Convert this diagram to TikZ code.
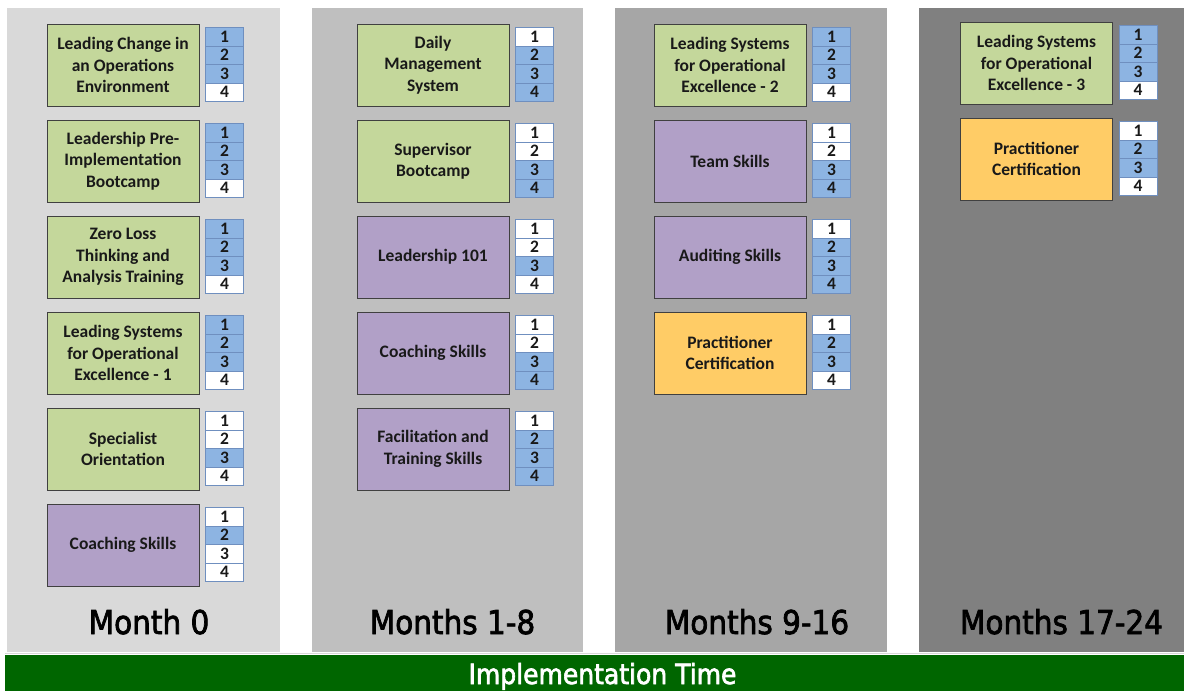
\documentclass[tikz,border=0pt]{standalone}
\usepackage{xcolor}
\usepackage{tikz}
\usepackage{fontspec}
\usetikzlibrary{positioning}
\setmainfont{Carlito}
\newfontfamily\tahoma[FakeStretch=0.9, FakeBold=2.2]{DejaVu Sans}
\definecolor{c1}{HTML}{D9D9D9}
\definecolor{c2}{HTML}{BFBFBF}
\definecolor{c3}{HTML}{A6A6A6}
\definecolor{c4}{HTML}{808080}
\definecolor{cg}{HTML}{C4D79B}
\definecolor{cp}{HTML}{B1A0C7}
\definecolor{co}{HTML}{FFCC66}
\definecolor{cb}{HTML}{8DB4E2}
\definecolor{cl}{HTML}{6F8FBF}
\definecolor{cbar}{HTML}{006600}

\tikzset{
  course/.style={draw=black!75, line width=1pt, minimum width=152pt, minimum height=82pt,
    inner sep=2pt, align=center, text=black!90, font=\bfseries\fontsize{17.5}{21.5}\selectfont},
  lvl/.style={draw=cl, line width=0.8pt, minimum width=38pt, minimum height=18.5pt,
    inner sep=0pt, outer sep=0pt, text=black!90, font=\bfseries\fontsize{17.5}{17.5}\selectfont},
  month/.style={anchor=base, font=\tahoma\fontsize{32.8}{34}\selectfont}
}

% four level cells to the right of a course box
\newcommand{\lvlstack}[5]{%
  \node[lvl, fill=#2, right=6pt of #1.north east, anchor=north west, yshift=-4pt] (#1-1) {1};
  \node[lvl, fill=#3, below=0pt of #1-1] (#1-2) {2};
  \node[lvl, fill=#4, below=0pt of #1-2] (#1-3) {3};
  \node[lvl, fill=#5, below=0pt of #1-3] (#1-4) {4};
}

\begin{document}
\begin{tikzpicture}[x=1pt, y=-1pt]
  \useasboundingbox (0,0) rectangle (1184,691);
  \fill[white] (0,0) rectangle (1184,691);

  % time panels
  \fill[c1] (7,8) rectangle (280,652);
  \fill[c2] (312,8) rectangle (583,652);
  \fill[c3] (615,8) rectangle (887,652);
  \fill[c4] (919,8) rectangle (1184,652);
  \draw[black!15, line width=0.8pt] (5,653.5) -- (1184,653.5);
  \fill[cbar] (5,655) rectangle (1184,691);

  % Month 0
  \node[course, fill=cg] (change) at (123,65) {Leading Change in\\an Operations\\Environment};
  \node[course, fill=cg, below=13pt of change] (preimp) {Leadership Pre-\\Implementation\\Bootcamp};
  \node[course, fill=cg, below=13pt of preimp] (zeroloss) {Zero Loss\\Thinking and\\Analysis Training};
  \node[course, fill=cg, below=13pt of zeroloss] (lsoe1) {Leading Systems\\for Operational\\Excellence - 1};
  \node[course, fill=cg, below=13pt of lsoe1] (special) {Specialist\\Orientation};
  \node[course, fill=cp, below=13pt of special] (coach1) {Coaching Skills};
  \lvlstack{change}{cb}{cb}{cb}{white}
  \lvlstack{preimp}{cb}{cb}{cb}{white}
  \lvlstack{zeroloss}{cb}{cb}{cb}{white}
  \lvlstack{lsoe1}{cb}{cb}{cb}{white}
  \lvlstack{special}{white}{white}{cb}{white}
  \lvlstack{coach1}{white}{cb}{white}{white}

  % Months 1-8
  \node[course, fill=cg] (daily) at (433,65) {Daily\\Management\\System};
  \node[course, fill=cg, below=13pt of daily] (superv) {Supervisor\\Bootcamp};
  \node[course, fill=cp, below=13pt of superv] (lead101) {Leadership 101};
  \node[course, fill=cp, below=13pt of lead101] (coach2) {Coaching Skills};
  \node[course, fill=cp, below=13pt of coach2] (facil) {Facilitation and\\Training Skills};
  \lvlstack{daily}{white}{cb}{cb}{cb}
  \lvlstack{superv}{white}{white}{cb}{cb}
  \lvlstack{lead101}{white}{white}{cb}{white}
  \lvlstack{coach2}{white}{white}{cb}{cb}
  \lvlstack{facil}{white}{cb}{cb}{cb}

  % Months 9-16
  \node[course, fill=cg] (lsoe2) at (730,65) {Leading Systems\\for Operational\\Excellence - 2};
  \node[course, fill=cp, below=13pt of lsoe2] (team) {Team Skills};
  \node[course, fill=cp, below=13pt of team] (audit) {Auditing Skills};
  \node[course, fill=co, below=13pt of audit] (pract1) {Practitioner\\Certification};
  \lvlstack{lsoe2}{cb}{cb}{cb}{white}
  \lvlstack{team}{white}{white}{cb}{cb}
  \lvlstack{audit}{white}{cb}{cb}{cb}
  \lvlstack{pract1}{white}{cb}{cb}{white}

  % Months 17-24
  \node[course, fill=cg] (lsoe3) at (1036.5,63) {Leading Systems\\for Operational\\Excellence - 3};
  \node[course, fill=co, below=13pt of lsoe3] (pract2) {Practitioner\\Certification};
  \lvlstack{lsoe3}{cb}{cb}{cb}{white}
  \lvlstack{pract2}{white}{cb}{cb}{white}

  \node[month] (m0) at (149,634) {Month 0};
  \node[month] (m1) at (452.5,634) {Months 1-8};
  \node[month] (m2) at (757,634) {Months 9-16};
  \node[month] (m3) at (1061.5,634) {Months 17-24};

  \node[anchor=base, text=white, font=\tahoma\fontsize{27.8}{30}\selectfont] (impl) at (602.5,684) {Implementation Time};
\end{tikzpicture}
\end{document}
